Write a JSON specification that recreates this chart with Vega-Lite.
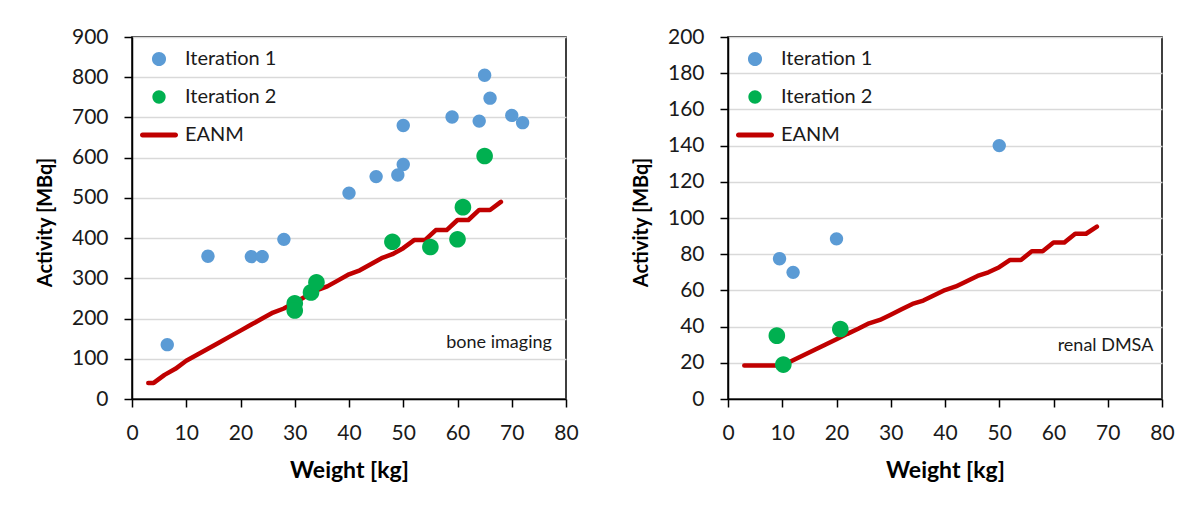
{
  "$schema": "https://vega.github.io/schema/vega-lite/v6.json",
  "background": "white",
  "padding": {"left": 34, "top": 25, "right": 0, "bottom": 0},
  "autosize": {"type": "pad"},
  "config": {
    "font": "Lato",
    "view": {"stroke": "#000", "strokeWidth": 1.5},
    "axis": {
      "domainColor": "#000", "domainWidth": 1.5,
      "tickColor": "#000", "tickWidth": 1.5, "tickSize": 8,
      "labelFont": "Lato", "labelFontSize": 21, "labelColor": "#1a1a1a",
      "labelFlush": false, "labelOverlap": false, "tickCount": 30,
      "titleFont": "Lato", "titleFontSize": 23, "titleFontWeight": "bold", "titleColor": "#000",
      "gridColor": "#d9d9d9", "gridWidth": 1.5
    },
    "axisX": {"labelPadding": 15, "titlePadding": 16, "grid": false},
    "axisY": {"labelPadding": 16, "grid": true, "titleBaseline": "middle", "titleFontSize": 20},
    "legend": {"padding": 0, "labelFont": "Lato", "labelFontSize": 20, "labelColor": "#1a1a1a", "labelOffset": 7, "rowPadding": 9, "symbolSize": 1444, "symbolStrokeWidth": 0, "symbolOpacity": 1}
  },
  "datasets": {
    "bone": [
      {"series": "EANM", "weight": 3, "activity": 40},
      {"series": "EANM", "weight": 4, "activity": 40},
      {"series": "EANM", "weight": 6, "activity": 60},
      {"series": "EANM", "weight": 8, "activity": 75},
      {"series": "EANM", "weight": 10, "activity": 95},
      {"series": "EANM", "weight": 12, "activity": 110},
      {"series": "EANM", "weight": 14, "activity": 125},
      {"series": "EANM", "weight": 16, "activity": 140},
      {"series": "EANM", "weight": 18, "activity": 155},
      {"series": "EANM", "weight": 20, "activity": 170},
      {"series": "EANM", "weight": 22, "activity": 185},
      {"series": "EANM", "weight": 24, "activity": 200},
      {"series": "EANM", "weight": 26, "activity": 215},
      {"series": "EANM", "weight": 28, "activity": 225},
      {"series": "EANM", "weight": 30, "activity": 240},
      {"series": "EANM", "weight": 32, "activity": 255},
      {"series": "EANM", "weight": 34, "activity": 270},
      {"series": "EANM", "weight": 36, "activity": 280},
      {"series": "EANM", "weight": 38, "activity": 295},
      {"series": "EANM", "weight": 40, "activity": 310},
      {"series": "EANM", "weight": 42, "activity": 320},
      {"series": "EANM", "weight": 44, "activity": 335},
      {"series": "EANM", "weight": 46, "activity": 350},
      {"series": "EANM", "weight": 48, "activity": 360},
      {"series": "EANM", "weight": 50, "activity": 375},
      {"series": "EANM", "weight": 52, "activity": 395},
      {"series": "EANM", "weight": 54, "activity": 395},
      {"series": "EANM", "weight": 56, "activity": 420},
      {"series": "EANM", "weight": 58, "activity": 420},
      {"series": "EANM", "weight": 60, "activity": 445},
      {"series": "EANM", "weight": 62, "activity": 445},
      {"series": "EANM", "weight": 64, "activity": 470},
      {"series": "EANM", "weight": 66, "activity": 470},
      {"series": "EANM", "weight": 68, "activity": 490},
      {"series": "Iteration 1", "weight": 6.5, "activity": 135},
      {"series": "Iteration 1", "weight": 14, "activity": 355},
      {"series": "Iteration 1", "weight": 22, "activity": 354},
      {"series": "Iteration 1", "weight": 24, "activity": 354},
      {"series": "Iteration 1", "weight": 28, "activity": 397},
      {"series": "Iteration 1", "weight": 40, "activity": 512},
      {"series": "Iteration 1", "weight": 45, "activity": 553},
      {"series": "Iteration 1", "weight": 49, "activity": 557},
      {"series": "Iteration 1", "weight": 50, "activity": 583},
      {"series": "Iteration 1", "weight": 50, "activity": 680},
      {"series": "Iteration 1", "weight": 59, "activity": 701},
      {"series": "Iteration 1", "weight": 64, "activity": 691},
      {"series": "Iteration 1", "weight": 65, "activity": 805},
      {"series": "Iteration 1", "weight": 66, "activity": 748},
      {"series": "Iteration 1", "weight": 70, "activity": 705},
      {"series": "Iteration 1", "weight": 72, "activity": 687},
      {"series": "Iteration 2", "weight": 30, "activity": 238},
      {"series": "Iteration 2", "weight": 30, "activity": 220},
      {"series": "Iteration 2", "weight": 33, "activity": 265},
      {"series": "Iteration 2", "weight": 34, "activity": 290},
      {"series": "Iteration 2", "weight": 48, "activity": 391},
      {"series": "Iteration 2", "weight": 55, "activity": 378},
      {"series": "Iteration 2", "weight": 60, "activity": 397},
      {"series": "Iteration 2", "weight": 61, "activity": 477},
      {"series": "Iteration 2", "weight": 65, "activity": 604}
    ],
    "dmsa": [
      {"series": "EANM", "weight": 3, "activity": 18.5},
      {"series": "EANM", "weight": 4, "activity": 18.5},
      {"series": "EANM", "weight": 6, "activity": 18.5},
      {"series": "EANM", "weight": 8, "activity": 18.5},
      {"series": "EANM", "weight": 10, "activity": 18.5},
      {"series": "EANM", "weight": 12, "activity": 21.4},
      {"series": "EANM", "weight": 14, "activity": 24.3},
      {"series": "EANM", "weight": 16, "activity": 27.2},
      {"series": "EANM", "weight": 18, "activity": 30.1},
      {"series": "EANM", "weight": 20, "activity": 33.0},
      {"series": "EANM", "weight": 22, "activity": 36.0},
      {"series": "EANM", "weight": 24, "activity": 38.8},
      {"series": "EANM", "weight": 26, "activity": 41.8},
      {"series": "EANM", "weight": 28, "activity": 43.7},
      {"series": "EANM", "weight": 30, "activity": 46.6},
      {"series": "EANM", "weight": 32, "activity": 49.6},
      {"series": "EANM", "weight": 34, "activity": 52.5},
      {"series": "EANM", "weight": 36, "activity": 54.4},
      {"series": "EANM", "weight": 38, "activity": 57.3},
      {"series": "EANM", "weight": 40, "activity": 60.2},
      {"series": "EANM", "weight": 42, "activity": 62.2},
      {"series": "EANM", "weight": 44, "activity": 65.1},
      {"series": "EANM", "weight": 46, "activity": 68.0},
      {"series": "EANM", "weight": 48, "activity": 70.0},
      {"series": "EANM", "weight": 50, "activity": 72.8},
      {"series": "EANM", "weight": 52, "activity": 76.8},
      {"series": "EANM", "weight": 54, "activity": 76.8},
      {"series": "EANM", "weight": 56, "activity": 81.6},
      {"series": "EANM", "weight": 58, "activity": 81.6},
      {"series": "EANM", "weight": 60, "activity": 86.4},
      {"series": "EANM", "weight": 62, "activity": 86.4},
      {"series": "EANM", "weight": 64, "activity": 91.3},
      {"series": "EANM", "weight": 66, "activity": 91.3},
      {"series": "EANM", "weight": 68, "activity": 95.2},
      {"series": "Iteration 1", "weight": 9.5, "activity": 77.5},
      {"series": "Iteration 1", "weight": 12, "activity": 70},
      {"series": "Iteration 1", "weight": 20, "activity": 88.5},
      {"series": "Iteration 1", "weight": 50, "activity": 140},
      {"series": "Iteration 2", "weight": 9, "activity": 35},
      {"series": "Iteration 2", "weight": 10.2, "activity": 19},
      {"series": "Iteration 2", "weight": 20.7, "activity": 38.7}
    ]
  },
  "spacing": 162,
  "bounds": "flush",
  "resolve": {
    "scale": {"color": "independent", "shape": "independent", "x": "independent", "y": "independent"},
    "legend": {"color": "independent", "shape": "independent"}
  },
  "hconcat": [
    {
      "width": 434,
      "height": 362,
      "data": {"name": "bone"},
      "layer": [
        {
          "transform": [{"filter": "datum.series === 'EANM'"}],
          "mark": {"type": "line", "strokeWidth": 4.5, "strokeJoin": "round", "strokeCap": "round", "color": "#C00000"},
          "encoding": {
            "x": {"field": "weight", "type": "quantitative", "scale": {"domain": [0, 80], "nice": false}, "axis": {"values": [0, 10, 20, 30, 40, 50, 60, 70, 80], "title": "Weight [kg]"}},
            "y": {"field": "activity", "type": "quantitative", "scale": {"domain": [0, 900], "nice": false}, "axis": {"values": [0, 100, 200, 300, 400, 500, 600, 700, 800, 900], "title": "Activity [MBq]", "titleX": -87, "titleY": 185}}
          }
        },
        {
          "transform": [{"filter": "datum.series === 'Iteration 1'"}],
          "mark": {"type": "point", "filled": true, "size": 1300, "opacity": 1, "strokeWidth": 0},
          "encoding": {
            "x": {"field": "weight", "type": "quantitative"},
            "y": {"field": "activity", "type": "quantitative"},
            "color": {
              "field": "series", "type": "nominal",
              "scale": {"domain": ["Iteration 1", "Iteration 2", "EANM"], "range": ["#5B9BD5", "#00B050", "#C00000"]},
              "legend": {"title": null, "orient": "none", "legendX": 8, "legendY": 3}
            },
            "shape": {
              "field": "series", "type": "nominal",
              "scale": {"domain": ["Iteration 1", "Iteration 2", "EANM"], "range": ["M-0.37,0A0.37,0.37 0 1,0 0.37,0A0.37,0.37 0 1,0 -0.37,0Z", "M-0.35,0A0.35,0.35 0 1,0 0.35,0A0.35,0.35 0 1,0 -0.35,0Z", "M-0.87,-0.13H0.87A0.13,0.13 0 0,1 0.87,0.13H-0.87A0.13,0.13 0 0,1 -0.87,-0.13Z"]},
              "legend": {"title": null, "orient": "none", "legendX": 8, "legendY": 3}
            }
          }
        },
        {
          "transform": [{"filter": "datum.series === 'Iteration 2'"}],
          "mark": {"type": "point", "filled": true, "size": 2250, "opacity": 1, "strokeWidth": 0},
          "encoding": {
            "x": {"field": "weight", "type": "quantitative"},
            "y": {"field": "activity", "type": "quantitative"},
            "color": {"field": "series", "type": "nominal"},
            "shape": {"field": "series", "type": "nominal"}
          }
        },
        {
          "data": {"values": [{"weight": 77.4, "activity": 139, "label": "bone imaging"}]},
          "mark": {"type": "text", "align": "right", "baseline": "middle", "fontSize": 18, "color": "#1a1a1a", "font": "Lato"},
          "encoding": {
            "x": {"field": "weight", "type": "quantitative"},
            "y": {"field": "activity", "type": "quantitative"},
            "text": {"field": "label"}
          }
        }
      ]
    },
    {
      "width": 434,
      "height": 362,
      "data": {"name": "dmsa"},
      "layer": [
        {
          "transform": [{"filter": "datum.series === 'EANM'"}],
          "mark": {"type": "line", "strokeWidth": 4.5, "strokeJoin": "round", "strokeCap": "round", "color": "#C00000"},
          "encoding": {
            "x": {"field": "weight", "type": "quantitative", "scale": {"domain": [0, 80], "nice": false}, "axis": {"values": [0, 10, 20, 30, 40, 50, 60, 70, 80], "title": "Weight [kg]"}},
            "y": {"field": "activity", "type": "quantitative", "scale": {"domain": [0, 200], "nice": false}, "axis": {"values": [0, 20, 40, 60, 80, 100, 120, 140, 160, 180, 200], "title": "Activity [MBq]", "titleX": -87, "titleY": 185}}
          }
        },
        {
          "transform": [{"filter": "datum.series === 'Iteration 1'"}],
          "mark": {"type": "point", "filled": true, "size": 1300, "opacity": 1, "strokeWidth": 0},
          "encoding": {
            "x": {"field": "weight", "type": "quantitative"},
            "y": {"field": "activity", "type": "quantitative"},
            "color": {
              "field": "series", "type": "nominal",
              "scale": {"domain": ["Iteration 1", "Iteration 2", "EANM"], "range": ["#5B9BD5", "#00B050", "#C00000"]},
              "legend": {"title": null, "orient": "none", "legendX": 8, "legendY": 3}
            },
            "shape": {
              "field": "series", "type": "nominal",
              "scale": {"domain": ["Iteration 1", "Iteration 2", "EANM"], "range": ["M-0.37,0A0.37,0.37 0 1,0 0.37,0A0.37,0.37 0 1,0 -0.37,0Z", "M-0.35,0A0.35,0.35 0 1,0 0.35,0A0.35,0.35 0 1,0 -0.35,0Z", "M-0.87,-0.13H0.87A0.13,0.13 0 0,1 0.87,0.13H-0.87A0.13,0.13 0 0,1 -0.87,-0.13Z"]},
              "legend": {"title": null, "orient": "none", "legendX": 8, "legendY": 3}
            }
          }
        },
        {
          "transform": [{"filter": "datum.series === 'Iteration 2'"}],
          "mark": {"type": "point", "filled": true, "size": 2250, "opacity": 1, "strokeWidth": 0},
          "encoding": {
            "x": {"field": "weight", "type": "quantitative"},
            "y": {"field": "activity", "type": "quantitative"},
            "color": {"field": "series", "type": "nominal"},
            "shape": {"field": "series", "type": "nominal"}
          }
        },
        {
          "data": {"values": [{"weight": 78.4, "activity": 29.3, "label": "renal DMSA"}]},
          "mark": {"type": "text", "align": "right", "baseline": "middle", "fontSize": 18, "color": "#1a1a1a", "font": "Lato"},
          "encoding": {
            "x": {"field": "weight", "type": "quantitative"},
            "y": {"field": "activity", "type": "quantitative"},
            "text": {"field": "label"}
          }
        }
      ]
    }
  ]
}
